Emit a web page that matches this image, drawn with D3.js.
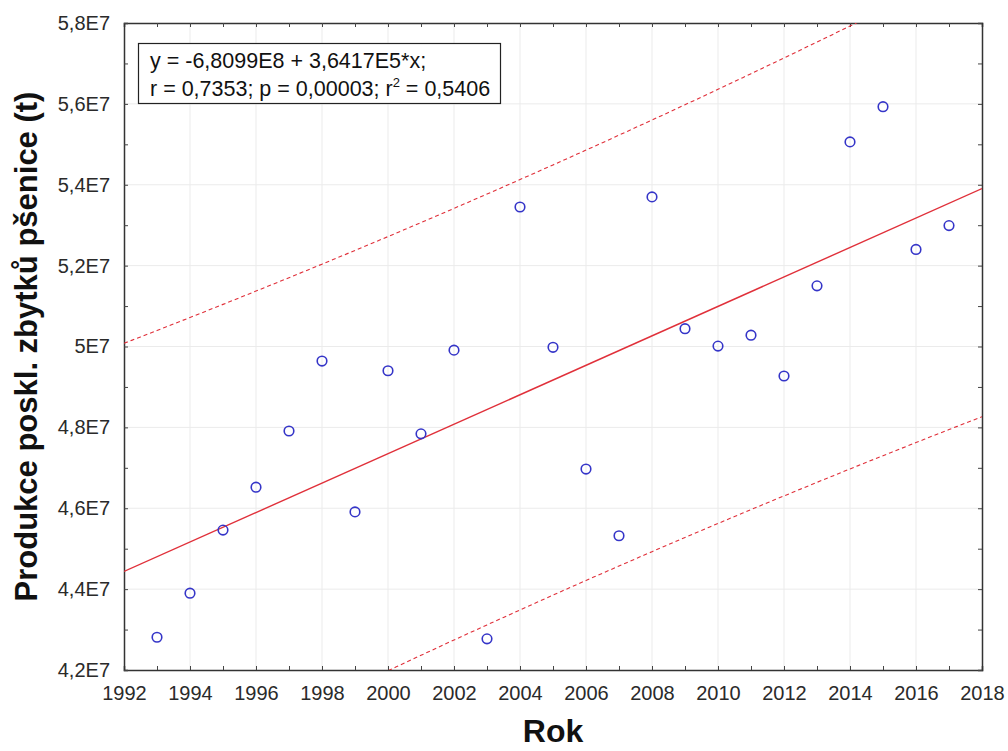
<!DOCTYPE html>
<html>
<head>
<meta charset="utf-8">
<script src="https://cdn.jsdelivr.net/npm/d3@7"></script>
<style>
  body { margin: 0; background: #fff; }
  text { font-family: "Liberation Sans", Arial, sans-serif; }
</style>
</head>
<body>
<div id="chart"></div>
<script>
// data
let years = [1993, 1994, 1995, 1996, 1997, 1998, 1999, 2000, 2001, 2002, 2003, 2004, 2005,
             2006, 2007, 2008, 2009, 2010, 2011, 2012, 2013, 2014, 2015, 2016, 2017];
let production = [4.281e7, 4.390e7, 4.546e7, 4.652e7, 4.791e7, 4.964e7, 4.591e7, 4.940e7, 4.784e7, 4.991e7,
                  4.277e7, 5.345e7, 4.998e7, 4.697e7, 4.532e7, 5.370e7, 5.044e7, 5.001e7, 5.028e7, 4.927e7,
                  5.150e7, 5.506e7, 5.593e7, 5.240e7, 5.299e7];
let xTicks = d3.range(1992, 2019, 2);
let yTicks = d3.range(4.2e7, 5.81e7, 0.2e7);
let intercept = -6.8099e8,
    slope = 3.6417e5;
let statsLine1 = "y = -6,8099E8 + 3,6417E5*x;";
let statsLine2 = ["r = 0,7353; p = 0,00003; r", "2", " = 0,5406"];
let xTitle = "Rok",
    yTitle = "Produkce poskl. zbytků pšenice (t)";

let width = 1008,
    height = 751;
let margin = {left: 124, right: 26, top: 23, bottom: 81};

let svg = d3.select("#chart")
    .append("svg")
    .attr("width", width)
    .attr("height", height);

let x = d3.scaleLinear()
    .domain([1992, 2018])
    .range([margin.left, width - margin.right]);

let y = d3.scaleLinear()
    .domain([4.2e7, 5.8e7])
    .range([height - margin.bottom, margin.top]);

function fmtY(d) {
    let v = Math.round(d / 1e6) / 10;
    return String(v).replace(".", ",") + "E7";
}

// grid
svg.append("g").selectAll("line").data(xTicks.slice(1, -1)).enter()
    .append("line")
    .attr("x1", d => x(d)).attr("x2", d => x(d))
    .attr("y1", y(5.8e7)).attr("y2", y(4.2e7))
    .attr("stroke", "#ebebeb");
svg.append("g").selectAll("line").data(yTicks.slice(1, -1)).enter()
    .append("line")
    .attr("y1", d => y(d)).attr("y2", d => y(d))
    .attr("x1", x(1992)).attr("x2", x(2018))
    .attr("stroke", "#ebebeb");

// axes, ticks pointing inward on all sides
let minorX = d3.range(1992, 2019, 1);
let minorY = d3.range(4.2e7, 5.81e7, 0.1e7);
let h = y.range()[0] - y.range()[1],
    w = x.range()[1] - x.range()[0];

let axisB = svg.append("g")
    .attr("transform", `translate(0, ${y(4.2e7)})`)
    .call(d3.axisBottom(x).tickValues(minorX).tickSize(-4).tickFormat(d => d % 2 === 0 ? d : ""));
let axisT = svg.append("g")
    .attr("transform", `translate(0, ${y(5.8e7)})`)
    .call(d3.axisTop(x).tickValues(minorX).tickSize(-4).tickFormat(""));
let axisL = svg.append("g")
    .attr("transform", `translate(${x(1992)}, 0)`)
    .call(d3.axisLeft(y).tickValues(minorY).tickSize(-4)
        .tickFormat(d => Math.round(d / 1e6) % 2 === 0 ? fmtY(d) : ""));
let axisR = svg.append("g")
    .attr("transform", `translate(${x(2018)}, 0)`)
    .call(d3.axisRight(y).tickValues(minorY).tickSize(-4).tickFormat(""));

[axisB, axisT, axisL, axisR].forEach(function(a) {
    a.select(".domain").attr("stroke", "#333").attr("stroke-width", 1.5);
    a.selectAll(".tick line").attr("stroke", "#444");
    a.selectAll("text").attr("font-size", 20).attr("fill", "#2a2a2a")
        .style("font-family", "'Liberation Sans', Arial, sans-serif");
});
axisB.selectAll("text").attr("y", 16).attr("dy", "0.71em");
axisL.selectAll("text").attr("x", -14);

// prediction band (95 %) around the fitted line
let n = years.length;
let xm = d3.mean(years);
let sxx = d3.sum(years, d => (d - xm) * (d - xm));
let sse = d3.sum(years, (d, i) => Math.pow(production[i] - (intercept + slope * d), 2));
let s = Math.sqrt(sse / (n - 2));
let tval = 2.0687;
let xs = d3.range(1992, 2018.01, 0.25);
let band = xs.map(function(d) {
    let fit = intercept + slope * d;
    let half = tval * s * Math.sqrt(1 + 1 / n + (d - xm) * (d - xm) / sxx);
    return {x: d, lo: fit - half, hi: fit + half};
});

svg.append("clipPath").attr("id", "plotclip")
    .append("rect")
    .attr("x", x(1992)).attr("y", y(5.8e7))
    .attr("width", w).attr("height", h);

let plot = svg.append("g").attr("clip-path", "url(#plotclip)");

["hi", "lo"].forEach(function(k) {
    plot.append("path")
        .datum(band)
        .attr("fill", "none")
        .attr("stroke", "#e0303a")
        .attr("stroke-width", 1.1)
        .attr("stroke-dasharray", "4,3")
        .attr("d", d3.line().x(d => x(d.x)).y(d => y(d[k])));
});

// fitted line
plot.append("line")
    .attr("x1", x(1992)).attr("y1", y(intercept + slope * 1992))
    .attr("x2", x(2018)).attr("y2", y(intercept + slope * 2018))
    .attr("stroke", "#e0303a")
    .attr("stroke-width", 1.4);

// points
plot.selectAll("circle").data(years).enter()
    .append("circle")
    .attr("cx", d => x(d))
    .attr("cy", (d, i) => y(production[i]))
    .attr("r", 4.8)
    .attr("fill", "none")
    .attr("stroke", "#3535c8")
    .attr("stroke-width", 1.6);

// stats box
svg.append("rect")
    .attr("x", 138.5).attr("y", 43.5)
    .attr("width", 362).attr("height", 60)
    .attr("fill", "#fff")
    .attr("stroke", "#222")
    .attr("stroke-width", 1.2);
svg.append("text")
    .attr("x", 150).attr("y", 68)
    .attr("font-size", 21.5).attr("fill", "#111")
    .text(statsLine1);
let t2 = svg.append("text")
    .attr("x", 150).attr("y", 96)
    .attr("font-size", 21.5).attr("fill", "#111");
t2.append("tspan").text(statsLine2[0]);
t2.append("tspan").attr("font-size", 13).attr("dy", -9).text(statsLine2[1]);
t2.append("tspan").attr("dy", 9).text(statsLine2[2]);

// axis titles
svg.append("text")
    .attr("x", (x(1992) + x(2018)) / 2)
    .attr("y", 742)
    .attr("text-anchor", "middle")
    .attr("font-size", 32)
    .attr("font-weight", "bold")
    .attr("fill", "#111")
    .text(xTitle);
svg.append("text")
    .attr("transform", `translate(37, ${(y(4.2e7) + y(5.8e7)) / 2}) rotate(-90)`)
    .attr("text-anchor", "middle")
    .attr("font-size", 31)
    .attr("font-weight", "bold")
    .attr("fill", "#111")
    .text(yTitle);
</script>
</body>
</html>
